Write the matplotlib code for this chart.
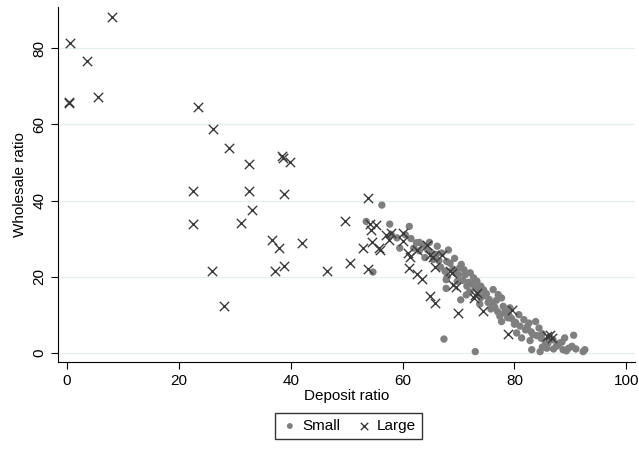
import numpy as np
import matplotlib.pyplot as plt

plt.rcParams['font.family'] = ['Liberation Sans', 'DejaVu Sans']

# Large banks (x markers): deposit ratio, wholesale ratio
large_x = [0.5, 3.5, 8.0, 0.3, 0.4, 5.5, 23.4, 26.1, 28.9, 32.5, 38.4, 38.7, 39.9,
           22.5, 32.5, 38.8, 33.1, 31.1, 22.5, 36.6, 37.9, 42.0, 25.9, 37.2, 38.8,
           46.5, 50.6, 28.1, 49.7, 53.9, 54.1, 55.2, 54.3, 54.6, 52.9, 55.7, 56.0,
           53.9, 57.0, 58.0, 57.6, 60.1, 60.0, 62.5, 61.0, 61.4, 61.2, 62.6, 63.4,
           64.3, 64.9, 65.5, 65.8, 64.9, 65.8, 67.0, 68.5, 68.8, 69.1, 69.6, 70.0,
           72.7, 73.3, 74.3, 72.9, 79.5, 78.9, 85.8, 86.4, 86.7]
large_y = [81.3, 76.6, 88.2, 66.0, 65.5, 67.1, 64.7, 58.9, 53.9, 49.7, 51.6, 51.2, 50.0,
           42.6, 42.6, 41.8, 37.4, 34.2, 33.9, 29.5, 27.4, 28.9, 21.6, 21.6, 22.9,
           21.6, 23.7, 12.4, 34.7, 40.6, 33.9, 33.5, 32.2, 29.2, 27.6, 27.4, 27.0,
           22.1, 30.9, 31.5, 29.7, 31.5, 29.3, 26.9, 26.1, 25.1, 22.4, 20.8, 19.5,
           28.2, 25.8, 25.2, 22.5, 14.8, 13.1, 25.8, 21.4, 21.0, 17.9, 17.4, 10.4,
           14.4, 15.7, 10.9, 15.3, 11.3, 4.9, 4.3, 4.7, 3.8]

# Small banks (dots)
small_x = [53.5, 56.3, 57.7, 61.2, 54.7, 58.0, 59.0, 60.5, 62.5, 63.0, 63.6, 62.0,
           63.0, 64.5, 65.0, 64.0, 65.5, 66.0, 66.5, 67.0, 67.9, 67.6, 67.8, 67.8,
           66.8, 68.5, 69.0, 69.5, 70.5, 70.0, 70.8, 71.2, 70.4, 72.1, 72.7, 73.3,
           71.5, 72.0, 73.0, 74.0, 74.5, 75.0, 74.0, 75.5, 76.2, 77.1, 77.7, 76.0,
           76.5, 78.0, 77.4, 77.7, 78.5, 79.0, 79.5, 80.8, 81.7, 82.6, 83.8, 84.4,
           80.4, 81.3, 83.1, 84.6, 82.0, 83.0, 84.0, 85.0, 85.5, 86.0, 86.9, 87.5,
           88.7, 89.7, 90.3, 89.0, 90.6, 92.3, 92.6, 88.0, 87.0, 85.0, 67.4, 73.0,
           59.5, 61.5, 64.8, 66.2, 68.2, 69.3, 70.2, 71.0, 71.8, 72.5, 73.6, 74.8,
           75.3, 76.8, 78.2, 79.2, 80.0, 81.0, 82.3, 83.3, 84.8, 86.3, 87.8, 88.5,
           68.0, 69.8, 71.4, 73.8, 75.8, 77.0, 78.8, 80.2, 82.8, 85.8, 91.0, 89.3]
small_y = [34.5, 38.8, 33.8, 33.2, 21.2, 31.0, 30.2, 31.0, 28.9, 29.0, 28.3, 27.5,
           26.8, 27.0, 26.5, 25.0, 24.5, 25.8, 24.2, 26.2, 24.0, 21.4, 19.2, 16.9,
           22.5, 23.5, 22.0, 21.0, 23.2, 20.5, 19.0, 20.5, 13.9, 21.0, 19.7, 18.8,
           17.5, 16.0, 17.0, 17.5, 16.5, 15.5, 14.5, 14.0, 16.6, 15.3, 14.4, 13.0,
           12.0, 12.2, 9.6, 8.2, 11.0, 10.0, 9.0, 10.0, 8.7, 7.8, 8.2, 6.5,
           5.2, 3.9, 0.8, 0.3, 6.0, 5.5, 4.5, 5.0, 3.0, 2.5, 3.4, 1.7,
           0.8, 1.2, 1.7, 3.9, 4.6, 0.3, 0.8, 2.5, 1.0, 1.5, 3.6, 0.3,
           27.5, 30.0, 29.0, 28.0, 27.0, 24.8, 22.3, 21.8, 18.5, 18.0, 16.0, 15.0,
           13.2, 13.8, 10.5, 11.8, 7.5, 7.0, 6.8, 4.8, 3.8, 4.2, 2.0, 2.8,
           20.0, 18.8, 15.2, 12.8, 11.5, 10.8, 9.2, 8.0, 3.2, 1.2, 1.0, 0.5]

fig = plt.figure(figsize=(6.39, 4.49), dpi=100)
ax = fig.add_axes([0.091, 0.194, 0.903, 0.79])

ax.scatter(small_x, small_y, s=28, color='#7f7f7f', edgecolors='none', label='Small', zorder=3)
ax.scatter(large_x, large_y, s=45, marker='x', color='#3a3a3a', linewidths=1.0, label='Large', zorder=4)

ax.set_xlim(-1.6, 101.6)
ax.set_ylim(-2.4, 90.8)
ax.set_xticks(np.arange(0, 101, 20))
ax.set_yticks(np.arange(0, 81, 20))
ax.set_yticklabels(['0', '20', '40', '60', '80'], rotation=90, va='center')
ax.tick_params(direction='out', length=5, width=0.8, labelsize=11)
ax.grid(axis='y', color='#e6eff0', linewidth=0.9, zorder=0)
ax.set_axisbelow(True)
for side in ['top', 'right']:
    ax.spines[side].set_visible(False)
ax.set_xlabel('Deposit ratio', fontsize=11, labelpad=1)
ax.set_ylabel('Wholesale ratio', fontsize=11, labelpad=4)

fig.legend(loc='lower center', bbox_to_anchor=(0.545, 0.005), ncol=2, fontsize=11,
           frameon=True, fancybox=False, edgecolor='black', handletextpad=0.2,
           handlelength=1.2, columnspacing=1.0, markerscale=0.8, borderpad=0.4)

plt.savefig('out.png', dpi=100)
